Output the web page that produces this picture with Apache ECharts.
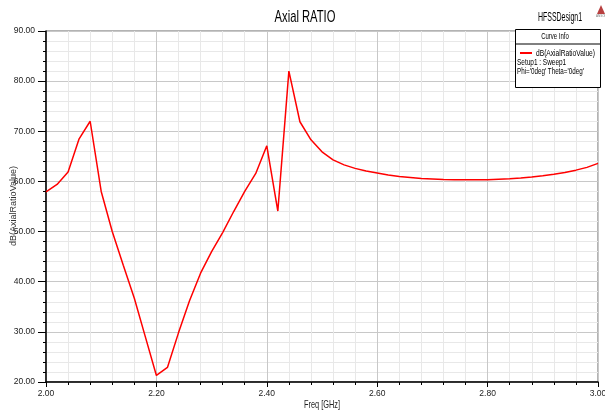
<!DOCTYPE html>
<html>
<head>
<meta charset="utf-8">
<script src="https://cdn.jsdelivr.net/npm/echarts@6/dist/echarts.min.js"></script>
<style>
html,body{margin:0;padding:0;background:#fff;}
#c{width:605px;height:414px;}
</style>
</head>
<body>
<div id="c"></div>
<script>
const freqs = [2.00,2.02,2.04,2.06,2.08,2.10,2.12,2.14,2.16,2.18,2.20,2.22,2.24,2.26,2.28,2.30,2.32,2.34,2.36,2.38,2.40,2.42,2.44,2.46,2.48,2.50,2.52,2.54,2.56,2.58,2.60,2.62,2.64,2.66,2.68,2.70,2.72,2.74,2.76,2.78,2.80,2.82,2.84,2.86,2.88,2.90,2.92,2.94,2.96,2.98,3.00];
const axialRatioDb = [57.9,59.4,61.9,68.5,72.0,58.0,50.0,43.3,36.7,29.0,21.3,22.9,29.8,36.2,41.7,46.0,49.8,54.0,58.0,61.6,67.1,54.1,82.0,71.9,68.3,65.9,64.3,63.3,62.6,62.1,61.7,61.3,61.0,60.8,60.6,60.5,60.4,60.35,60.35,60.35,60.35,60.45,60.55,60.7,60.9,61.15,61.45,61.8,62.25,62.8,63.6];
const titleText = 'Axial RATIO';
const designName = 'HFSSDesign1';
const xName = 'Freq [GHz]';
const yName = 'dB(AxialRatioValue)';
const legendTitle = 'Curve Info';
const legendLines = ['dB(AxialRatioValue)', 'Setup1 : Sweep1', "Phi='0deg' Theta='0deg'"];

const FONT = "'Liberation Sans', Arial, sans-serif";
const chart = echarts.init(document.getElementById('c'), null, {renderer:'canvas'});
const seriesData = freqs.map((f,i)=>[f, axialRatioDb[i]]);

function sText(x, y, text, size, sx, align, rot, color) {
  return {type:'text', x:x, y:y, scaleX:sx, scaleY:1, rotation:rot||0, z:12,
    style:{x:0, y:0, text:text, font:size+'px '+FONT, fill:color||'#000', textAlign:align||'left', textVerticalAlign:'middle'}};
}

chart.setOption({
  animation:false,
  backgroundColor:'#fff',
  grid:{left:46, right:7, top:31, bottom:32, containLabel:false, outerBoundsMode:'none',
    show:true, borderColor:'#666', borderWidth:1, backgroundColor:'transparent'},
  xAxis:{type:'value', min:2, max:3, interval:0.2,
    axisLine:{show:true, onZero:false, lineStyle:{color:'#000', width:1.5}},
    axisTick:{show:true, length:5, lineStyle:{color:'#000'}},
    minorTick:{show:true, splitNumber:5, length:3, lineStyle:{color:'#000'}},
    axisLabel:{fontFamily:FONT, fontSize:8.5, color:'#222', margin:7, formatter:v=>v.toFixed(2)},
    splitLine:{show:true, lineStyle:{color:'#c8c8c8', width:1}},
    minorSplitLine:{show:true, lineStyle:{color:'#e8e8e8', width:1}}
  },
  yAxis:{type:'value', min:20, max:90, interval:10,
    axisLine:{show:true, onZero:false, lineStyle:{color:'#000', width:1.5}},
    axisTick:{show:true, length:8, lineStyle:{color:'#000'}},
    minorTick:{show:true, splitNumber:5, length:3, lineStyle:{color:'#000'}},
    axisLabel:{fontFamily:FONT, fontSize:8.5, color:'#222', margin:11, formatter:v=>v.toFixed(2)},
    splitLine:{show:true, lineStyle:{color:'#c8c8c8', width:1}},
    minorSplitLine:{show:true, lineStyle:{color:'#e8e8e8', width:1}}
  },
  series:[{type:'line', data:seriesData, showSymbol:false, symbol:'none',
    lineStyle:{color:'#ff0000', width:1.5}, z:5}],
  graphic:[
    sText(305, 17, titleText, 17, 0.66, 'center'),
    sText(538, 17.5, designName, 12, 0.58, 'left'),
    sText(322, 405, xName, 11, 0.67, 'center', 0, '#222'),
    sText(13, 206, yName, 9.5, 0.95, 'center', Math.PI/2, '#333'),
    {type:'polygon', shape:{points:[[601,5],[597,14],[605,14]]}, style:{fill:'#b84040'}},
    {type:'text', x:596, y:15, style:{x:0, y:0, text:'ANSOFT', font:'3px '+FONT, fill:'#777'}},
    {type:'rect', shape:{x:515.5, y:29.5, width:85, height:58}, style:{fill:'#fff', stroke:'#000', lineWidth:1}, z:10},
    {type:'line', shape:{x1:515.5, y1:44, x2:600.5, y2:44}, style:{stroke:'#000', lineWidth:1}, z:11},
    sText(555, 36.5, legendTitle, 9.5, 0.63, 'center'),
    {type:'line', shape:{x1:520, y1:53, x2:532, y2:53}, style:{stroke:'#ff0000', lineWidth:2}, z:11},
    sText(536, 53, legendLines[0], 9.5, 0.7, 'left'),
    sText(517, 62, legendLines[1], 9.5, 0.68, 'left'),
    sText(517, 71, legendLines[2], 9.5, 0.66, 'left')
  ]
});
</script>
</body>
</html>
